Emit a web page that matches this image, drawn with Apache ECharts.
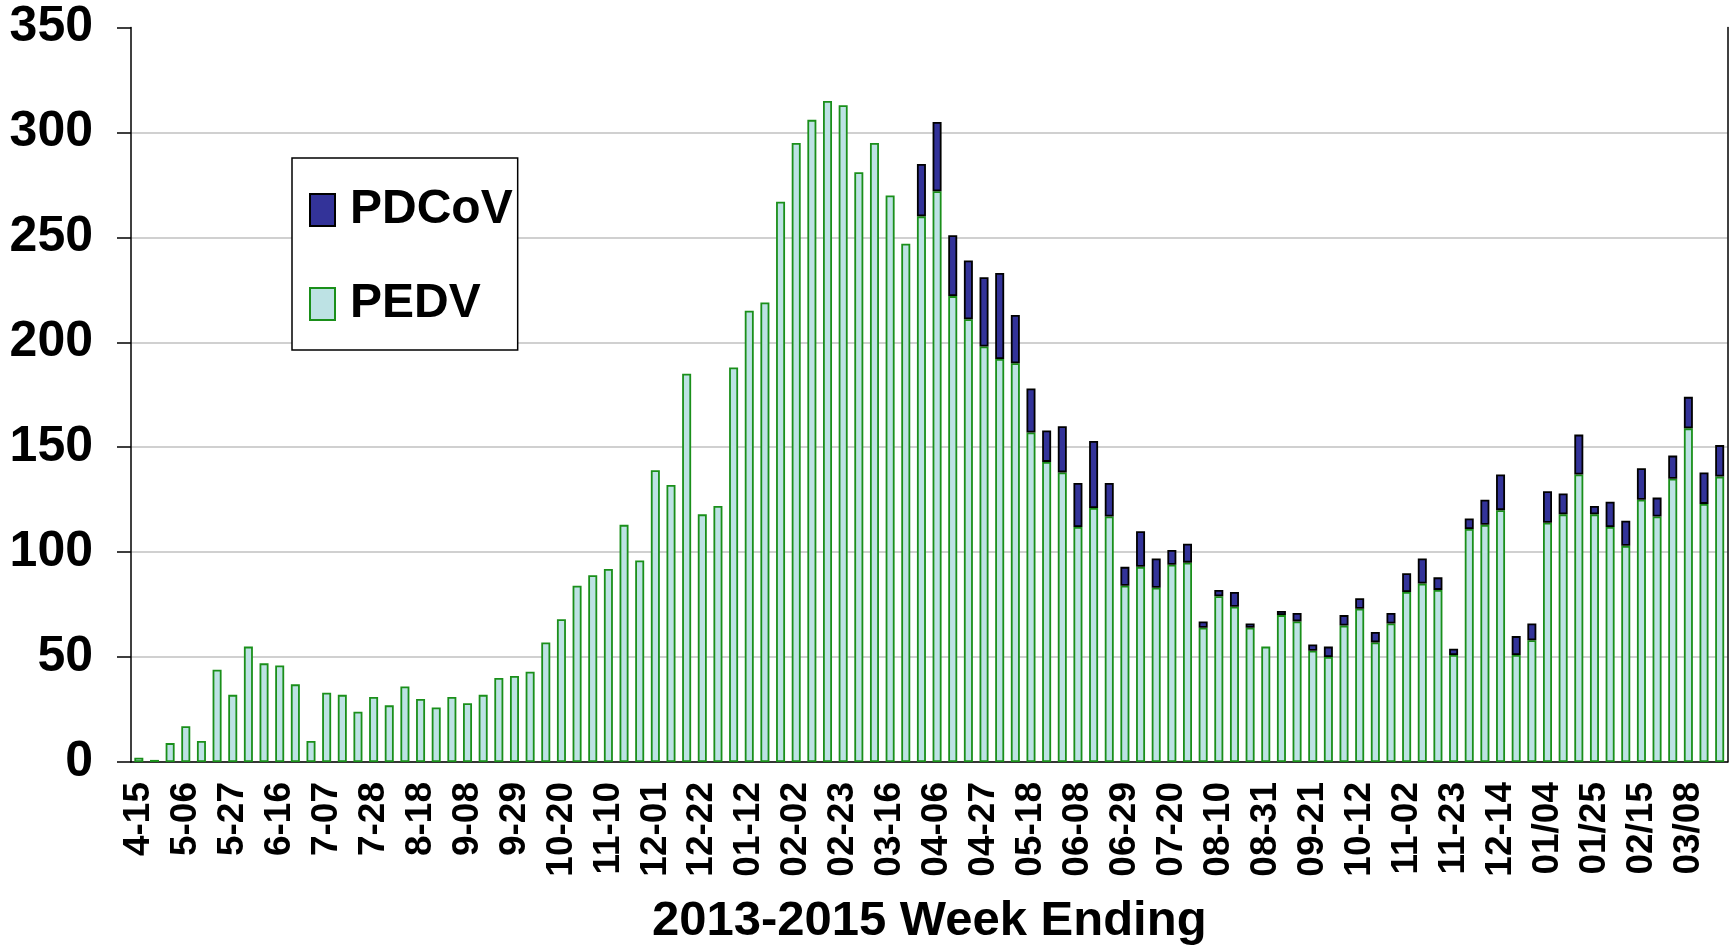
<!DOCTYPE html>
<html>
<head>
<meta charset="utf-8">
<script src="https://cdn.jsdelivr.net/npm/echarts@6/dist/echarts.min.js"></script>
<style>
html,body{margin:0;padding:0;background:#fff;}
#chart{width:1729px;height:947px;}
</style>
</head>
<body>
<div id="chart"></div>
<script>
const weeks = [
 '4-15','4-22','4-29','5-06','5-13','5-20','5-27','6-02','6-09','6-16',
 '6-23','6-30','7-07','7-14','7-21','7-28','8-04','8-11','8-18','8-25',
 '9-01','9-08','9-15','9-22','9-29','10-06','10-13','10-20','10-27','11-03',
 '11-10','11-17','11-24','12-01','12-08','12-15','12-22','12-29','01-05','01-12',
 '01-19','01-26','02-02','02-09','02-16','02-23','03-02','03-09','03-16','03-23',
 '03-30','04-06','04-13','04-20','04-27','05-04','05-11','05-18','05-25','06-01',
 '06-08','06-15','06-22','06-29','07-06','07-13','07-20','07-27','08-03','08-10',
 '08-17','08-24','08-31','09-07','09-14','09-21','09-28','10-05','10-12','10-19',
 '10-26','11-02','11-09','11-16','11-23','11-30','12-07','12-14','12-21','12-28',
 '01/04','01/11','01/18','01/25','02/01','02/08','02/15','02/22','03/01','03/08',
 '03/15','03/22'
];
const pedv = [
 2,1,9,17,10,44,32,55,47,46,
 37,10,33,32,24,31,27,36,30,26,
 31,28,32,40,41,43,57,68,84,89,
 92,113,96,139,132,185,118,122,188,215,
 219,267,295,306,315,313,281,295,270,247,
 260,272,222,211,198,192,190,157,143,138,
 112,121,117,84,93,83,94,95,64,79,
 74,64,55,70,67,53,50,65,73,57,
 66,81,85,82,51,111,113,120,51,58,
 114,118,137,118,112,103,125,117,135,159,
 123,136
];
const pdcov = [
 null,null,null,null,null,null,null,null,null,null,
 null,null,null,null,null,null,null,null,null,null,
 null,null,null,null,null,null,null,null,null,null,
 null,null,null,null,null,null,null,null,null,null,
 null,null,null,null,null,null,null,null,null,null,
 25,33,29,28,33,41,23,21,15,22,
 21,32,16,9,17,14,7,9,3,3,
 7,2,null,2,4,3,5,5,5,5,
 5,9,12,6,3,5,12,17,9,8,
 15,10,19,4,12,12,15,9,11,15,
 15,15
];
const yTicks = [0,50,100,150,200,250,300,350];

const chart = echarts.init(document.getElementById('chart'));
const boldFont = '"Liberation Sans", Arial, sans-serif';
chart.setOption({
  animation:false,
  backgroundColor:'#fff',
  grid:{left:131, right:1.5, top:27.5, bottom:185, containLabel:false, outerBoundsMode:'none'},
  legend:{
    orient:'vertical', left:292, top:158,
    data:['PDCoV','PEDV'],
    icon:'rect',
    itemWidth:25, itemHeight:32, itemGap:46,
    padding:[28,5,22,17],
    borderColor:'#000', borderWidth:1.5,
    backgroundColor:'#fff',
    textStyle:{fontFamily:boldFont, fontWeight:'bold', fontSize:48, color:'#000', padding:[0,0,0,10]}
  },
  xAxis:{
    type:'category', data:weeks,
    name:'2013-2015 Week Ending', nameLocation:'middle', nameGap:135,
    nameTextStyle:{fontFamily:boldFont, fontWeight:'bold', fontSize:49, color:'#000'},
    axisLine:{lineStyle:{color:'#000', width:1.5}},
    axisTick:{interval:0, length:10, lineStyle:{color:'#000', width:1.5}},
    axisLabel:{interval:2, rotate:90, margin:20, fontFamily:boldFont, fontWeight:'bold', fontSize:37, color:'#000'},
    splitLine:{show:false}
  },
  yAxis:[{
    type:'value', min:yTicks[0], max:yTicks[yTicks.length-1], interval:50,
    axisLine:{show:true, lineStyle:{color:'#000', width:1.5}},
    axisTick:{show:true, length:14, lineStyle:{color:'#000', width:1.5}},
    axisLabel:{margin:38, fontFamily:boldFont, fontWeight:'bold', fontSize:50, color:'#000'},
    splitLine:{show:true, lineStyle:{color:['#c0c0c0','#c0c0c0','#c0c0c0','#c0c0c0','#c0c0c0','#c0c0c0','#c0c0c0','rgba(0,0,0,0)'], width:1.5}}
  },{
    type:'value', position:'right', min:0, max:350, interval:50,
    axisLine:{show:true, lineStyle:{color:'#000', width:1.5}},
    axisTick:{show:false}, axisLabel:{show:false}, splitLine:{show:false}
  }],
  series:[
    {name:'PEDV', type:'bar', stack:'t', data:pedv, barWidth:9,
     itemStyle:{color:'#bde2e4', borderColor:'#1a8f1a', borderWidth:1.8}},
    {name:'PDCoV', type:'bar', stack:'t', data:pdcov, barWidth:9,
     itemStyle:{color:'#333399', borderColor:'#000', borderWidth:1.8}}
  ]
});
</script>
</body>
</html>
